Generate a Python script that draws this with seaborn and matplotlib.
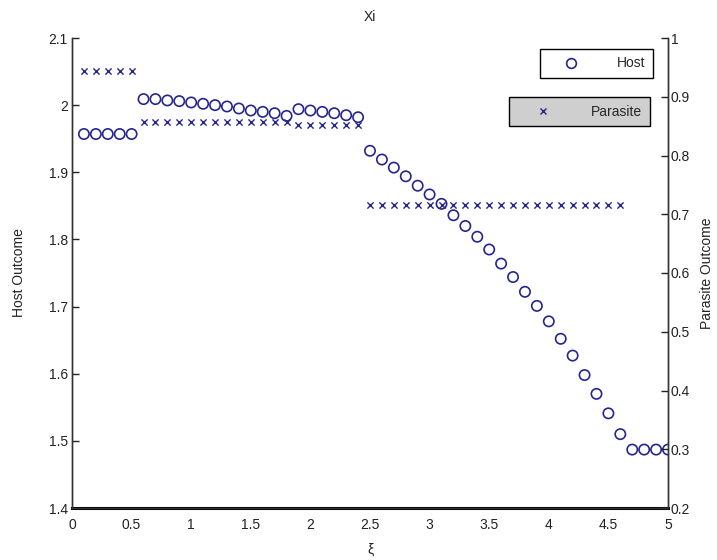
import matplotlib
matplotlib.use("Agg")
import matplotlib.pyplot as plt
import numpy as np
import seaborn as sns
from matplotlib.lines import Line2D

# xi values (0.1 .. 5.0)
xi = [round(0.1 * i, 1) for i in range(1, 51)]

host = [1.957, 1.957, 1.957, 1.957, 1.957,
        2.009, 2.009, 2.007, 2.006, 2.004, 2.002, 2.000, 1.998, 1.995, 1.992,
        1.990, 1.988, 1.984, 1.994, 1.992, 1.990, 1.988, 1.985, 1.982,
        1.932, 1.919, 1.907, 1.894, 1.880, 1.867, 1.853, 1.836, 1.820, 1.804,
        1.785, 1.764, 1.744, 1.722, 1.701, 1.678, 1.652, 1.627, 1.598, 1.570,
        1.541, 1.510, 1.487, 1.487, 1.487, 1.487]

parasite_x = xi[:46]
parasite = [0.944] * 5 + [0.857] * 13 + [0.852] * 6 + [0.715] * 22

navy = "#25258f"

sns.set_style("white")
plt.rcParams['font.family'] = ['Liberation Sans', 'DejaVu Sans']

fig = plt.figure(figsize=(7.17, 5.6), dpi=100)
ax1 = fig.add_axes([72 / 717, 52 / 560, 596 / 717, 470 / 560])
ax2 = ax1.twinx()

sns.scatterplot(x=xi, y=host, ax=ax1, marker='o', s=55, facecolor='none',
                edgecolor=navy, linewidth=1.2, zorder=3)
sns.scatterplot(x=parasite_x, y=parasite, ax=ax2, marker='x', s=20,
                color=navy, linewidth=1.0, zorder=3)

ax1.set_xlim(0, 5)
ax1.set_ylim(1.4, 2.1)
ax2.set_ylim(0.2, 1.0)
ax1.set_xticks(np.arange(0, 5.01, 0.5))
ax1.set_xticklabels(['0', '0.5', '1', '1.5', '2', '2.5', '3', '3.5', '4', '4.5', '5'])
ax1.set_yticks(np.arange(1.4, 2.11, 0.1))
ax1.set_yticklabels(['1.4', '1.5', '1.6', '1.7', '1.8', '1.9', '2', '2.1'])
ax2.set_yticks(np.arange(0.2, 1.01, 0.1))
ax2.set_yticklabels(['0.2', '0.3', '0.4', '0.5', '0.6', '0.7', '0.8', '0.9', '1'])

for ax in (ax1, ax2):
    ax.spines['top'].set_visible(False)
    for s in ('left', 'right', 'bottom'):
        ax.spines[s].set_color('#333333')
        ax.spines[s].set_linewidth(1.0)
    ax.tick_params(direction='in', length=5, width=1, color='#222222',
                   labelsize=10, labelcolor='#222222', pad=3)
ax1.spines['bottom'].set_linewidth(2.2)
ax1.spines['bottom'].set_color('black')
ax1.tick_params(axis='x', pad=7)
ax1.tick_params(axis='y', right=False)
ax2.tick_params(axis='y', left=False, pad=2)

ax1.set_title('Xi', fontsize=10, color='#222222', pad=12)
ax1.set_xlabel('ξ', fontsize=10, color='#222222', labelpad=8)
ax1.set_ylabel('Host Outcome', fontsize=10, color='#222222', labelpad=16)
ax2.set_ylabel('Parasite Outcome', fontsize=10, color='#222222', labelpad=7)

h_host = Line2D([], [], linestyle='none', marker='o', markersize=7,
                markerfacecolor='none', markeredgecolor=navy, markeredgewidth=1.2)
h_par = Line2D([], [], linestyle='none', marker='x', markersize=5,
               color=navy, markeredgewidth=1.0)

leg1 = ax2.legend([h_host], ['Host'], loc='upper right',
                  bbox_to_anchor=(0.975, 0.977), borderaxespad=0,
                  fancybox=False, edgecolor='black', facecolor='white',
                  framealpha=1, fontsize=10, handletextpad=1.6,
                  borderpad=0.55, handlelength=3.4)
leg1.get_frame().set_linewidth(1.0)
ax2.add_artist(leg1)
leg2 = ax2.legend([h_par], ['Parasite'], loc='upper right',
                  bbox_to_anchor=(0.970, 0.874), borderaxespad=0,
                  fancybox=False, edgecolor='black', facecolor='#cfcfcf',
                  framealpha=1, fontsize=10, handletextpad=1.6,
                  borderpad=0.55, handlelength=3.8)
leg2.get_frame().set_linewidth(1.0)

fig.savefig('out.png', dpi=100)
